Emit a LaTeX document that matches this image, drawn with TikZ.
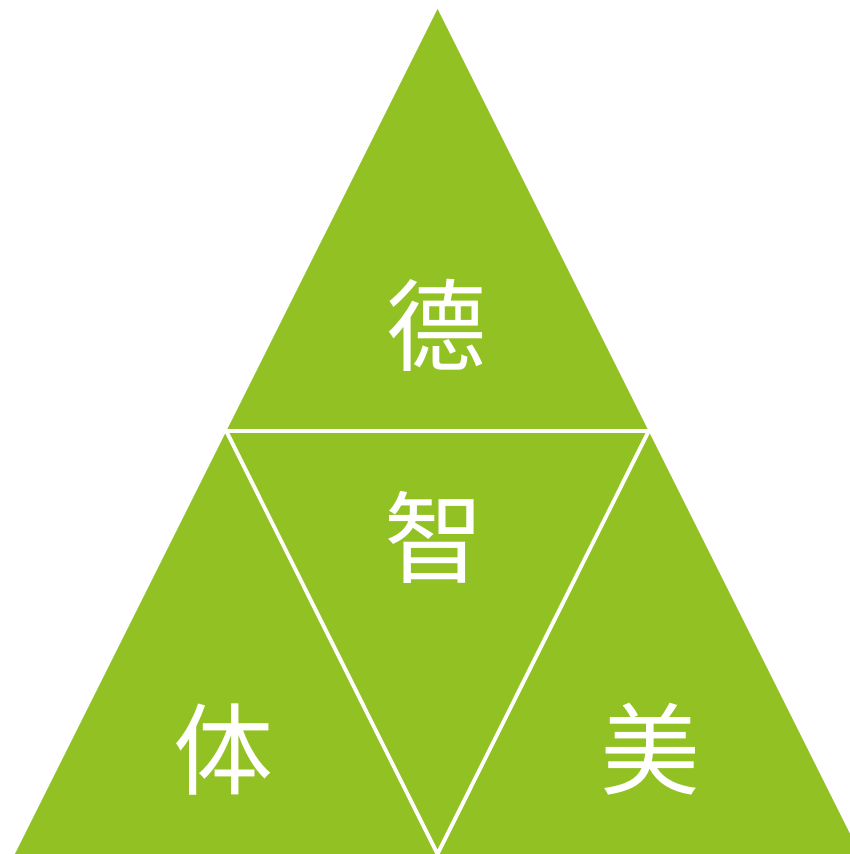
\documentclass[tikz,border=0pt]{standalone}
\usepackage{fontspec}
\usepackage{tikz}
\newfontfamily\cjk{Noto Sans CJK SC}
\definecolor{leafgreen}{RGB}{146,193,35}
\tikzset{
  glyph/.style={text=white,inner sep=0pt,font=\cjk\fontsize{28.45pt}{30pt}\selectfont},
  gap/.style={draw=white,line width=1.1pt}
}

\begin{document}
\begin{tikzpicture}[line cap=round,line join=round,x=1.0cm,y=1.0cm]
\useasboundingbox (0.,0.) rectangle (8.5,8.54);
\clip (0.,0.) rectangle (8.5,8.54);
% corners of the big triangle
\coordinate (top) at (4.375,8.45);
\coordinate (bl) at (0.15,0.);
\coordinate (br) at (8.60,0.);
% midpoints of the sides
\coordinate (ml) at (2.2625,4.23);
\coordinate (mr) at (6.4875,4.23);
\coordinate (mb) at (4.375,0.);
\fill [leafgreen] (top) -- (bl) -- (br) -- cycle;
% white cuts between the four parts
\draw [gap,line join=miter] (ml) -- (mr) -- (mb) -- cycle;
\node [glyph] (de) at (4.36,5.29) {德};
\node [glyph] (zhi) at (4.34,3.17) {智};
\node [glyph] (ti) at (2.23,1.04) {体};
\node [glyph] (mei) at (6.50,1.05) {美};
\end{tikzpicture}
\end{document}
